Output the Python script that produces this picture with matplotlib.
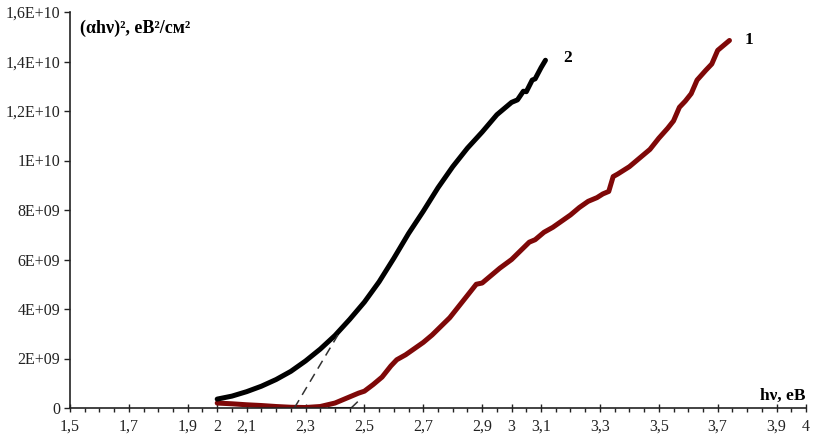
import numpy as np
import matplotlib.pyplot as plt
from matplotlib.ticker import MultipleLocator

# photon energy, eV and (alpha*h*nu)^2 in units of 1E9
x2 = [2.00, 2.05, 2.10, 2.15, 2.20, 2.25, 2.30, 2.35, 2.40, 2.45, 2.50, 2.55,
      2.60, 2.65, 2.70, 2.75, 2.80, 2.85, 2.90, 2.95, 3.00, 3.02, 3.04, 3.05,
      3.07, 3.08, 3.10, 3.115]
y2 = [0.36, 0.48, 0.66, 0.88, 1.15, 1.48, 1.90, 2.38, 2.93, 3.58, 4.28, 5.10,
      6.05, 7.05, 7.95, 8.90, 9.75, 10.50, 11.15, 11.85, 12.35, 12.45, 12.80, 12.78,
      13.25, 13.30, 13.75, 14.05]

x1 = [2.00, 2.05, 2.10, 2.15, 2.20, 2.25, 2.30, 2.35, 2.40, 2.45, 2.48, 2.50,
      2.53, 2.56, 2.59, 2.61, 2.64, 2.67, 2.70, 2.73, 2.76, 2.79, 2.82, 2.85,
      2.88, 2.90, 2.93, 2.96, 3.00, 3.03, 3.06, 3.08, 3.11, 3.14, 3.17, 3.20,
      3.23, 3.26, 3.29, 3.31, 3.33, 3.345, 3.36, 3.40, 3.44, 3.47, 3.50, 3.53,
      3.55, 3.57, 3.59, 3.61, 3.63, 3.66, 3.68, 3.70, 3.72, 3.74]
y1 = [0.20, 0.17, 0.13, 0.10, 0.06, 0.03, 0.02, 0.06, 0.20, 0.45, 0.60, 0.68,
      0.95, 1.25, 1.70, 1.95, 2.15, 2.40, 2.65, 2.95, 3.30, 3.65, 4.10, 4.55,
      5.00, 5.05, 5.35, 5.65, 6.00, 6.35, 6.70, 6.80, 7.10, 7.30, 7.55, 7.80,
      8.10, 8.35, 8.50, 8.65, 8.75, 9.35, 9.45, 9.75, 10.15, 10.45, 10.90, 11.30,
      11.60, 12.15, 12.40, 12.70, 13.25, 13.65, 13.90, 14.45, 14.65, 14.85]

# extrapolation lines
tan2_x = [2.262, 2.41]
tan2_y = [0.0, 2.95]
tan1_x = [2.455, 2.49]
tan1_y = [0.0, 0.40]
base_x = [2.38, 2.455]
base_y = [0.02, 0.02]

xtick_vals = [1.5, 1.7, 1.9, 2.0, 2.1, 2.3, 2.5, 2.7, 2.9, 3.0, 3.1, 3.3, 3.5, 3.7, 3.9, 4.0]
xtick_labels = ['1,5', '1,7', '1,9', '2', '2,1', '2,3', '2,5', '2,7', '2,9', '3', '3,1',
                '3,3', '3,5', '3,7', '3,9', '4']
ytick_vals = [0, 2, 4, 6, 8, 10, 12, 14, 16]
ytick_labels = ['0', '2E+09', '4E+09', '6E+09', '8E+09', '1E+10', '1,2E+10', '1,4E+10', '1,6E+10']

plt.rcParams['font.family'] = ['Liberation Serif', 'DejaVu Serif']

fig = plt.figure(figsize=(8.15, 4.41), dpi=100)
ax = fig.add_axes([70 / 815, 1 - 408 / 441, 736 / 815, 396 / 441])

ax.plot(x1, y1, color='#7f0808', lw=3.6, solid_capstyle='round', solid_joinstyle='round')
ax.plot(x2, y2, color='black', lw=3.6, solid_capstyle='round', solid_joinstyle='round')
ax.plot(tan2_x, tan2_y, color='#333333', lw=1.1, dashes=(6, 4))
ax.plot(tan1_x, tan1_y, color='#333333', lw=1.1, dashes=(6, 4))
ax.plot(base_x, base_y, color='black', lw=1.5)

ax.text(3.175, 14.15, '2', fontsize=12.5, fontweight='bold', va='center')
ax.text(3.79, 14.85, '1', fontsize=12.5, fontweight='bold', va='center')

ax.set_xlim(1.5, 4.0)
ax.set_ylim(0, 16)
ax.set_xticks(xtick_vals)
ax.set_xticklabels(xtick_labels)
ax.xaxis.set_minor_locator(MultipleLocator(0.05))
ax.set_yticks(ytick_vals)
ax.set_yticklabels(ytick_labels)

for s in ['top', 'right']:
    ax.spines[s].set_visible(False)
for s in ['left', 'bottom']:
    ax.spines[s].set_linewidth(1.2)
    ax.spines[s].set_color('#222222')

ax.tick_params(axis='x', which='major', direction='inout', length=6, width=1, pad=5,
               labelsize=11.5, colors='#222222')
ax.tick_params(axis='x', which='minor', direction='out', length=3, width=1, colors='#222222')
ax.tick_params(axis='y', which='major', direction='out', length=4, width=1, pad=3,
               labelsize=11.5, colors='#222222')

fig.text(80 / 815, 1 - 28 / 441, '(αhν)², еВ²/см²', fontsize=13, fontweight='bold',
         va='center', ha='left')
fig.text(805 / 815, 1 - 396 / 441, 'hν, еВ', fontsize=12.5, fontweight='bold',
         va='center', ha='right')

fig.savefig('out.png', dpi=100)
